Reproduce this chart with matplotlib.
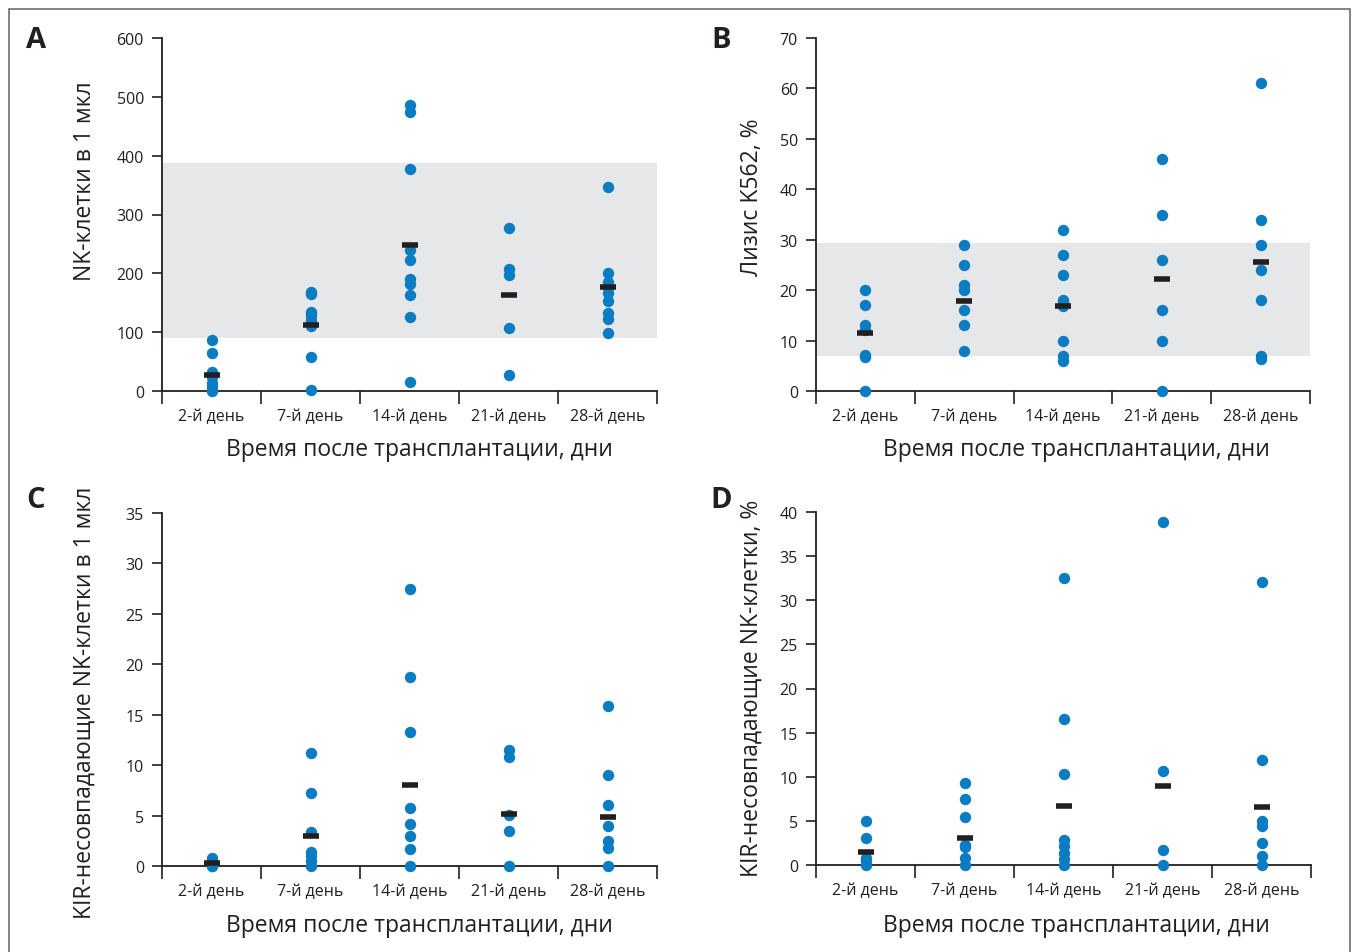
import matplotlib
matplotlib.use("Agg")
from matplotlib import pyplot as plt
from matplotlib.patches import Rectangle

plt.rcParams['font.family'] = ['Open Sans', 'DejaVu Sans']

INK = '#231f20'
DOT = '#0a7cc2'
BAND = '#e6e7e8'

days = ['2-й день', '7-й день', '14-й день', '21-й день', '28-й день']
xlabel = 'Время после трансплантации, дни'

# A: NK cells per µl
nk_d2 = [86, 64, 33, 23, 14, 6, 0]
nk_d7 = [168, 165, 135, 130, 120, 110, 58, 1]
nk_d14 = [486, 475, 377, 240, 222, 190, 182, 164, 125, 15]
nk_d21 = [277, 207, 197, 107, 27]
nk_d28 = [346, 200, 186, 176, 166, 153, 133, 123, 99]
nk_median = [27, 112, 248, 163, 176]
nk_norm = (90, 387)

# B: K562 lysis, %
lys_d2 = [20, 17, 13, 12, 7.2, 6.8, 0]
lys_d7 = [29, 25, 21, 20, 16, 13, 8]
lys_d14 = [32, 27, 23, 18.1, 17.6, 16.8, 10, 7, 6]
lys_d21 = [46, 35, 26, 16, 10, 0]
lys_d28 = [61, 34, 29, 24, 18, 7, 6.3]
lys_median = [11.6, 17.9, 16.8, 22.2, 25.6]
lys_norm = (7, 29.4)

# C: KIR-mismatched NK cells per µl
kir_abs_d2 = [0.8, 0.5, 0.2, 0, 0]
kir_abs_d7 = [11.2, 7.2, 3.4, 1.4, 1.0, 0.5, 0]
kir_abs_d14 = [27.5, 18.7, 13.3, 5.8, 4.2, 3.0, 1.7, 0]
kir_abs_d21 = [11.5, 10.8, 5.1, 3.5, 0]
kir_abs_d28 = [15.9, 9.0, 6.0, 4.0, 2.5, 1.8, 0]
kir_abs_median = [0.26, 3.0, 8.0, 5.15, 4.9]

# D: KIR-mismatched NK cells, %
kir_pct_d2 = [5.0, 3.1, 0.8, 0.4, 0]
kir_pct_d7 = [9.3, 7.5, 5.4, 2.3, 2.0, 0.8, 0]
kir_pct_d14 = [32.5, 16.6, 10.3, 2.8, 2.2, 1.4, 0.7, 0]
kir_pct_d21 = [38.9, 10.7, 1.7, 0]
kir_pct_d28 = [32.1, 11.9, 5.0, 4.4, 2.5, 1.0, 0]
kir_pct_median = [1.5, 3.1, 6.7, 8.9, 6.6]

W, H = 1356, 953
fig = plt.figure(figsize=(W / 100, H / 100), dpi=100)

# thin frame around the whole figure (bottom edge is cut off)
fig.patches.append(Rectangle((9 / W, -0.05), (1350 - 9) / W, 1.05 - 10 / H,
                             transform=fig.transFigure, fill=False,
                             edgecolor='#6d6e71', lw=1.2))


def panel(rect, groups, medians, ymax, ystep, norm=None):
    ax = fig.add_axes(rect)
    if norm is not None:
        ax.axhspan(norm[0], norm[1], color=BAND, lw=0, zorder=0)
    for i, vals in enumerate(groups):
        ax.plot([i + 0.5] * len(vals), vals, 'o', color=DOT, ms=8.2,
                mec='none', clip_on=False, zorder=3)
    ax.plot([i + 0.5 for i in range(len(medians))], medians, '_', color=INK,
            ms=11.5, mew=4, zorder=4, clip_on=False)
    ax.set_xlim(0, 5)
    ax.set_ylim(0, ymax)
    ax.set_yticks(range(0, ymax + 1, ystep))
    ax.set_xticks(range(6))
    ax.set_xticklabels([])
    ax.set_xticks([i + 0.5 for i in range(5)], minor=True)
    ax.set_xticklabels(days, minor=True)
    ax.tick_params(axis='x', which='major', length=9, width=1.2, color=INK)
    ax.tick_params(axis='x', which='minor', length=0, pad=12.5, labelsize=11.5,
                   labelcolor=INK)
    ax.tick_params(axis='y', length=7, width=1.2, color=INK, pad=6,
                   labelsize=11.5, labelcolor=INK)
    for s in ('top', 'right'):
        ax.spines[s].set_visible(False)
    for s in ('left', 'bottom'):
        ax.spines[s].set_color(INK)
        ax.spines[s].set_linewidth(1.3)
    return ax


def fx(px):
    return px / W


def fy(py):
    return 1 - py / H


axh = (392 - 39) / H
panel([fx(162), fy(392), fx(495), axh],
      [nk_d2, nk_d7, nk_d14, nk_d21, nk_d28], nk_median, 600, 100, nk_norm)
panel([fx(816), fy(392), fx(494), axh],
      [lys_d2, lys_d7, lys_d14, lys_d21, lys_d28], lys_median, 70, 10, lys_norm)
panel([fx(162), fy(867), fx(495), axh],
      [kir_abs_d2, kir_abs_d7, kir_abs_d14, kir_abs_d21, kir_abs_d28],
      kir_abs_median, 35, 5)
panel([fx(816), fy(866), fx(495), axh],
      [kir_pct_d2, kir_pct_d7, kir_pct_d14, kir_pct_d21, kir_pct_d28],
      kir_pct_median, 40, 5)

# panel letters, axis titles
for letter, px, py in [('A', 36, 40), ('B', 721, 40), ('C', 36, 500), ('D', 721, 500)]:
    fig.text(fx(px), fy(py), letter, fontsize=21, fontweight='bold',
             color=INK, ha='center', va='center')

for px, py in [(419, 450), (1076, 450), (419, 926), (1076, 926)]:
    fig.text(fx(px), fy(py), xlabel, fontsize=16.5, color=INK,
             ha='center', va='center')

ylabels = [('NK-клетки в 1 мкл', 85, 181),
           ('Лизис K562, %', 752, 197),
           ('KIR-несовпадающие NK-клетки в 1 мкл', 85, 703),
           ('KIR-несовпадающие NK-клетки, %', 752, 688)]
for txt, px, py in ylabels:
    fig.text(fx(px), fy(py), txt, fontsize=16.5, color=INK, rotation=90,
             ha='center', va='center')

fig.savefig('out.png', dpi=100)
